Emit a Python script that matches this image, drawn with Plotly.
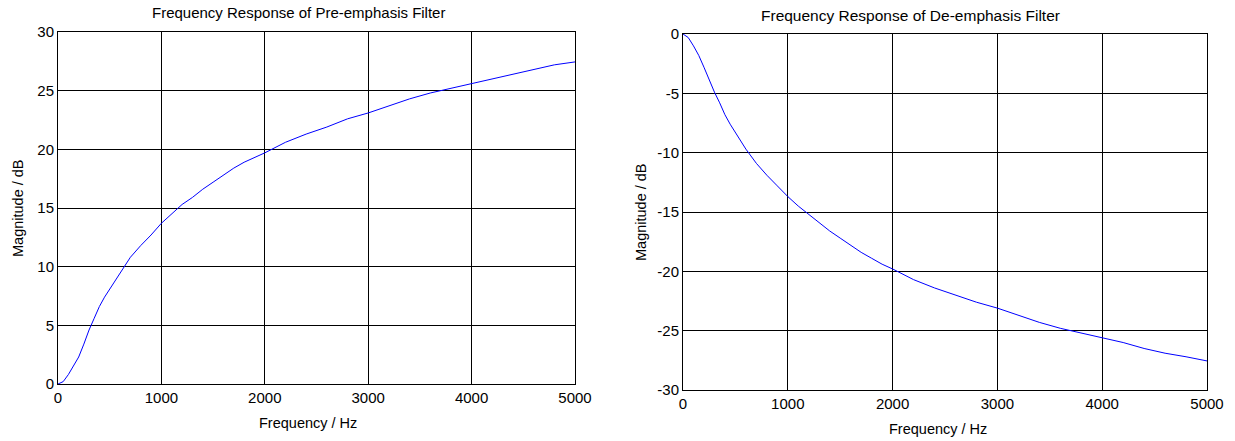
import plotly.graph_objects as go

# frequency response readings (Hz, dB)
pre_freq = [0, 50, 100, 150, 200, 250, 300, 350, 400, 450, 500, 600, 700, 800, 900,
            1000, 1100, 1200, 1300, 1400, 1500, 1600, 1700, 1800, 1900, 2000,
            2200, 2400, 2600, 2800, 3000, 3200, 3400, 3600, 3800, 4000,
            4200, 4400, 4600, 4800, 5000]
pre_db = [0.0, 0.2, 0.8, 1.5, 2.3, 3.4, 4.6, 5.6, 6.6, 7.4, 8.1, 9.5, 10.8, 11.8, 12.7,
          13.7, 14.5, 15.3, 15.9, 16.6, 17.2, 17.8, 18.4, 18.9, 19.3, 19.7,
          20.6, 21.3, 21.9, 22.6, 23.1, 23.7, 24.3, 24.8, 25.2, 25.6,
          26.0, 26.4, 26.8, 27.2, 27.45]

de_freq = [0, 50, 100, 150, 200, 250, 300, 350, 400, 450, 500, 600, 700, 800, 900,
           1000, 1100, 1200, 1300, 1400, 1500, 1600, 1700, 1800, 1900, 2000,
           2200, 2400, 2600, 2800, 3000, 3200, 3400, 3600, 3800, 4000,
           4200, 4400, 4600, 4800, 5000]
de_db = [0.0, -0.3, -1.0, -1.8, -2.8, -3.9, -4.9, -5.8, -6.8, -7.6, -8.3, -9.7, -10.9, -11.9, -12.8,
         -13.7, -14.5, -15.2, -15.9, -16.6, -17.2, -17.8, -18.4, -18.9, -19.4, -19.8,
         -20.7, -21.4, -22.0, -22.6, -23.1, -23.7, -24.3, -24.8, -25.2, -25.6,
         -26.0, -26.5, -26.9, -27.2, -27.55]

x_ticks = [0, 1000, 2000, 3000, 4000, 5000]
pre_ticks = [0, 5, 10, 15, 20, 25, 30]
de_ticks = [-30, -25, -20, -15, -10, -5, 0]
de_tick_text = ["-30", "-25", "-20", "-15", "-10", "-5", "0"]  # plain hyphens, like the original

W, H = 1235, 441
FONT = "Liberation Sans, Arial, sans-serif"

fig = go.Figure()
fig.add_trace(go.Scatter(x=pre_freq, y=pre_db, mode="lines",
                         line=dict(color="#0000ff", width=1), xaxis="x", yaxis="y"))
fig.add_trace(go.Scatter(x=de_freq, y=de_db, mode="lines",
                         line=dict(color="#0000ff", width=1), xaxis="x2", yaxis="y2"))

ax = dict(showline=True, linecolor="black", linewidth=1, mirror=True,
          showgrid=True, gridcolor="black", gridwidth=1, zeroline=False,
          ticks="", tickfont=dict(family=FONT, size=15, color="black"))

fig.update_layout(
    width=W, height=H,
    paper_bgcolor="white", plot_bgcolor="white",
    showlegend=False,
    margin=dict(l=0, r=0, t=0, b=0),
    font=dict(family=FONT, color="black"),
    xaxis=dict(ax, domain=[58 / W, 575 / W], range=[0, 5000], tickvals=x_ticks,
               anchor="y", automargin=False),
    yaxis=dict(ax, domain=[1 - 384 / H, 1 - 32 / H], range=[0, 30], tickvals=pre_ticks,
               anchor="x", automargin=False),
    xaxis2=dict(ax, domain=[683 / W, 1207 / W], range=[0, 5000], tickvals=x_ticks,
                anchor="y2", automargin=False),
    yaxis2=dict(ax, domain=[1 - 390 / H, 1 - 34 / H], range=[-30, 0], tickvals=de_ticks,
                ticktext=de_tick_text, anchor="x2", automargin=False),
)

# titles and axis labels (pixel centres)
labels = [
    ("Frequency Response of Pre-emphasis Filter", 298, 12, 0, 15),
    ("Frequency Response of De-emphasis Filter", 911, 15, 0, 15.5),
    ("Frequency / Hz", 308, 423, 0, 14.5),
    ("Frequency / Hz", 938, 429, 0, 14.5),
    ("Magnitude / dB", 18, (32 + 384) / 2, -90, 14.5),
    ("Magnitude / dB", 641, (34 + 390) / 2, -90, 14.5),
]
for text, px, py, rot, size in labels:
    fig.add_annotation(text=text, x=px / W, y=1 - py / H, xref="paper", yref="paper",
                       showarrow=False, textangle=rot, xanchor="center", yanchor="middle",
                       font=dict(family=FONT, size=size, color="black"))

# drop the page's default body margin so the figure sits at the window corner
fig.write_html("out.html", config={"displayModeBar": False},
               post_script="document.body.style.margin='0';")
